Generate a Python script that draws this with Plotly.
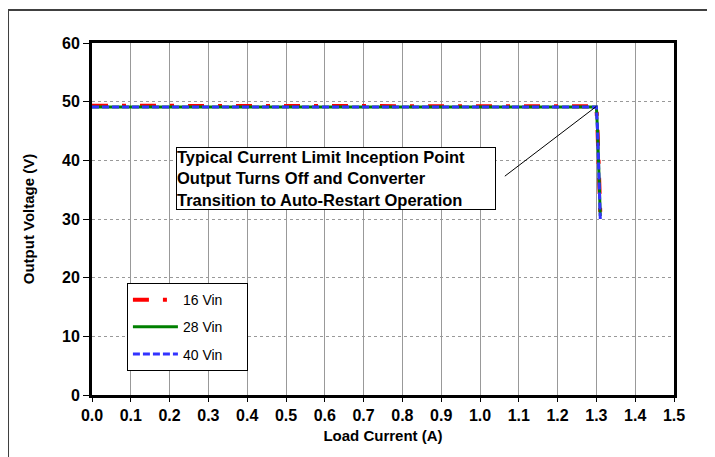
import plotly.graph_objects as go

# Load current (A) and output voltage (V)
current_16 = [0.0, 0.2, 0.4, 0.6, 0.8, 1.0, 1.2, 1.30, 1.303, 1.307, 1.31]
volt_16 = [49.3, 49.3, 49.3, 49.3, 49.3, 49.3, 49.3, 49.2, 45.0, 38.0, 31.0]

current_28 = [0.0, 0.2, 0.4, 0.6, 0.8, 1.0, 1.2, 1.30, 1.303, 1.307, 1.31]
volt_28 = [49.1, 49.1, 49.1, 49.1, 49.1, 49.1, 49.1, 49.1, 45.0, 38.0, 30.5]

current_40 = [0.0, 0.2, 0.4, 0.6, 0.8, 1.0, 1.2, 1.30, 1.303, 1.307, 1.31]
volt_40 = [49.1, 49.1, 49.1, 49.1, 49.1, 49.1, 49.1, 49.1, 45.0, 38.0, 30.0]

x_ticks = [round(0.1 * i, 1) for i in range(16)]
x_tick_text = [f"{v:.1f}" for v in x_ticks]
y_ticks = [0, 10, 20, 30, 40, 50, 60]

note_text = ("Typical Current Limit Inception Point<br>"
             "Output Turns Off and Converter<br>"
             "Transition to Auto-Restart Operation")

FONT = "Arial, Liberation Sans, sans-serif"
PAD = "\u00a0" * 5  # widen the legend box a little

fig = go.Figure()
fig.add_trace(go.Scatter(x=current_16, y=volt_16, mode="lines", name="16 Vin" + PAD, legendgroup="a",
                         line=dict(color="#ff0000", width=4, dash="16px,14px,4px,14px")))
fig.add_trace(go.Scatter(x=current_28, y=volt_28, mode="lines", name="28 Vin" + PAD, legendgroup="b",
                         line=dict(color="#008000", width=3)))
fig.add_trace(go.Scatter(x=current_40, y=volt_40, mode="lines", name="40 Vin" + PAD, legendgroup="c",
                         line=dict(color="#3333ff", width=3, dash="7px,3px")))

# callout leader line
fig.add_shape(type="line", xref="x", yref="y", x0=1.064, y0=37.3, x1=1.30, y1=49.2,
              line=dict(color="black", width=1))

fig.add_annotation(x=0.628, y=36.9, xref="x", yref="y", text=note_text, showarrow=False,
                   align="left", xanchor="center", yanchor="middle",
                   font=dict(family=FONT, size=16.5, color="black", weight="bold"),
                   bgcolor="white", bordercolor="black", borderwidth=1, borderpad=0,
                   width=318)

# outer frame of the figure
fig.add_shape(type="rect", xref="paper", yref="paper", x0=-0.1443, x1=1.0653,
              y0=-0.25, y1=1.0938, line=dict(color="#404040", width=2), layer="below")

fig.update_layout(
    width=707, height=449,
    margin=dict(l=84, r=41, t=35, b=62),
    paper_bgcolor="white", plot_bgcolor="white",
    font=dict(family=FONT, color="black"),
    showlegend=True,
    legend=dict(x=0.06, y=0.318, xanchor="left", yanchor="top",
                bgcolor="white", bordercolor="black", borderwidth=1,
                font=dict(family=FONT, size=14, color="black"),
                tracegroupgap=6, itemwidth=45),
)
fig.update_xaxes(range=[0, 1.5], tickvals=x_ticks, ticktext=x_tick_text,
                 showgrid=True, gridcolor="#999999", gridwidth=1,
                 showline=True, linecolor="black", linewidth=3, mirror=True,
                 ticks="outside", ticklen=4, tickcolor="black",
                 tickfont=dict(family=FONT, size=16, weight="bold"),
                 title=dict(text="Load Current (A)", standoff=8,
                            font=dict(family=FONT, size=15, weight="bold")),
                 zeroline=False)
fig.update_yaxes(range=[0, 60], tickvals=y_ticks,
                 showgrid=True, gridcolor="#999999", gridwidth=1, griddash="dot",
                 showline=True, linecolor="black", linewidth=3, mirror=True,
                 ticks="outside", ticklen=6, tickcolor="black",
                 tickfont=dict(family=FONT, size=16, weight="bold"),
                 title=dict(text="Output Voltage (V)", standoff=24,
                            font=dict(family=FONT, size=15, weight="bold")),
                 zeroline=False)

fig.write_html("out.html")
